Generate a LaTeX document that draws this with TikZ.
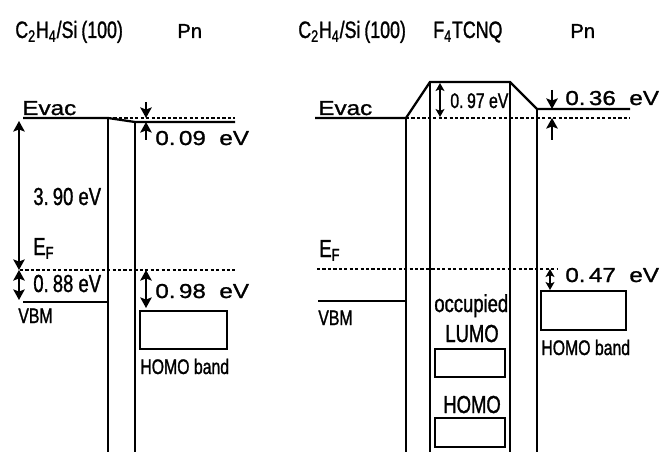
\documentclass[tikz,border=0pt]{standalone}
\usepackage{fontspec}
\setmainfont[FakeBold=1.2]{Liberation Sans}
\newfontfamily\widefont[FakeStretch=1.2,FakeBold=1.2]{Liberation Sans}
\newfontfamily\narrowfont[FakeStretch=0.75,FakeBold=1.2]{Liberation Sans}
\usetikzlibrary{positioning, arrows.meta, calc}
\tikzset{
    level/.style={line width=1.3pt},
    dotlevel/.style={line width=1pt, dash pattern=on 1.8pt off 1.3pt},
    wall/.style={line width=1.3pt},
    ebar/.style={{Stealth[length=6pt,width=6.5pt,inset=1.2pt]}-{Stealth[length=6pt,width=6.5pt,inset=1.2pt]}, line width=1.3pt},
    ebarsmall/.style={{Stealth[length=4.5pt,width=5pt,inset=1pt]}-{Stealth[length=4.5pt,width=5pt,inset=1pt]}, line width=1.2pt},
    eptr/.style={-{Stealth[length=6pt,width=6.5pt,inset=1.2pt]}, line width=1.3pt},
    bandbox/.style={draw, line width=1.3pt, inner sep=0pt},
    ttl/.style={anchor=base west, inner sep=0pt, font=\narrowfont\fontsize{13.5}{15}\selectfont},
    ttlpn/.style={anchor=base west, inner sep=0pt, font=\fontsize{11.5}{13}\selectfont},
    wlbl/.style={anchor=base west, inner sep=0pt, font=\widefont\fontsize{11.5}{13}\selectfont},
    nlbl/.style={anchor=base west, inner sep=0pt, font=\narrowfont\fontsize{14}{16}\selectfont},
    slbl/.style={anchor=base west, inner sep=0pt, font=\narrowfont\fontsize{12}{14}\selectfont},
}

\begin{document}
\begin{tikzpicture}[x=0.02cm, y=-0.02cm]
    \useasboundingbox (0,0) rectangle (661,452);
    % Titles
    \node[ttl]   (tSiL) at (15,38)  {C\textsubscript{2}H\textsubscript{4}/Si\,(100)};
    \node[ttlpn] (tPnL) at (177,38) {Pn};
    \node[ttl]   (tSiR) at (298,38) {C\textsubscript{2}H\textsubscript{4}/Si\,(100)};
    \node[ttl]   (tF4)  at (433,38) {F\textsubscript{4}TCNQ};
    \node[ttlpn] (tPnR) at (570,38) {Pn};

    % ---- C2H4/Si(100) / Pn ----
    \coordinate (vacA) at (23,118);
    \coordinate (vacB) at (108,118);
    \coordinate (vacC) at (135,122);
    \coordinate (vacD) at (235,122);
    \coordinate (vacE) at (235,118);
    \coordinate (wallA) at (108,452);
    \coordinate (wallB) at (135,452);
    \coordinate (efA) at (20,270);
    \coordinate (efB) at (235,270);
    \coordinate (vbmA) at (23,302);
    \coordinate (vbmB) at (108,302);
    \draw[level] (vacA) -- (vacB) -- (vacC) -- (vacD);
    \draw[dotlevel] (vacB) -- (vacE);
    \draw[wall] (vacB) -- (wallA);
    \draw[wall] (vacC) -- (wallB);
    \draw[dotlevel] (efA) -- (efB);
    \draw[level] (vbmA) -- (vbmB);
    % Energies
    \coordinate (wfTop) at (19,121);
    \coordinate (wfMid) at (19,270);
    \coordinate (wfBot) at (19,300);
    \draw[ebar] (wfTop) -- (wfMid);
    \draw[ebar] (wfMid) -- (wfBot);
    \coordinate (dvA) at (146,102);
    \coordinate (dvB) at (146,118);
    \coordinate (dvC) at (146,122);
    \coordinate (dvD) at (146,140);
    \draw[eptr] (dvA) -- (dvB);
    \draw[eptr] (dvD) -- (dvC);
    \coordinate (hbA) at (146,270);
    \coordinate (hbB) at (146,308);
    \draw[ebar] (hbA) -- (hbB);
    \node[bandbox, minimum width=1.74cm, minimum height=0.76cm] (homoL) at (183.5,330) {};
    % Labels
    \node[wlbl] (evacL) at (22,115)  {Evac};
    \node[nlbl] (wfL)   at (33,205)  {3.\,90 eV};
    \node[nlbl] (efL)   at (33,255)  {E\textsubscript{F}};
    \node[nlbl] (vbmgL) at (33,292)  {0.\,88 eV};
    \node[slbl] (vbmL)  at (18,323)  {VBM};
    \node[wlbl] (dvL)   at (155,145) {0.\,09~~eV};
    \node[wlbl] (hbL)   at (155,298) {0.\,98~~eV};
    \node[slbl] (homoLl) at (140,374) {HOMO band};

    % ---- C2H4/Si(100) / F4TCNQ / Pn ----
    \coordinate (rvacA) at (315,118);
    \coordinate (rvacB) at (406,118);
    \coordinate (rvacC) at (430,82);
    \coordinate (rvacD) at (510,82);
    \coordinate (rvacE) at (537,109);
    \coordinate (rvacF) at (630,109);
    \coordinate (rvacG) at (630,118);
    \draw[level] (rvacA) -- (rvacB) -- (rvacC) -- (rvacD) -- (rvacE) -- (rvacF);
    \draw[dotlevel] (rvacB) -- (rvacG);
    \foreach \w in {rvacB, rvacC, rvacD, rvacE}
        \draw[wall] (\w) -- (\w |- wallA);
    \coordinate (refA) at (317,269);
    \coordinate (refB) at (557,269);
    \coordinate (rvbmA) at (318,301);
    \coordinate (rvbmB) at (406,301);
    \draw[dotlevel] (refA) -- (refB);
    \draw[level] (rvbmA) -- (rvbmB);
    % Energies
    \coordinate (ipA) at (440,83);
    \coordinate (ipB) at (440,117);
    \draw[ebarsmall] (ipA) -- (ipB);
    \coordinate (rdvA) at (552,90);
    \coordinate (rdvB) at (552,109);
    \coordinate (rdvC) at (552,118);
    \coordinate (rdvD) at (552,140);
    \draw[eptr] (rdvA) -- (rdvB);
    \draw[eptr] (rdvD) -- (rdvC);
    \coordinate (rhbA) at (550,269);
    \coordinate (rhbB) at (550,290);
    \draw[ebarsmall] (rhbA) -- (rhbB);
    \node[bandbox, minimum width=1.70cm, minimum height=0.78cm] (homoR) at (583.5,310.5) {};
    \node[bandbox, minimum width=1.40cm, minimum height=0.56cm] (lumoF) at (470,363) {};
    \node[bandbox, minimum width=1.40cm, minimum height=0.58cm] (homoF) at (470,432.5) {};
    % Labels
    \node[wlbl] (evacR) at (318,115) {Evac};
    \node[slbl] (ipL)   at (450,108) {0.\,97 eV};
    \node[wlbl] (rdvL)  at (565,105) {0.\,36~~eV};
    \node[nlbl] (efR)   at (319,257) {E\textsubscript{F}};
    \node[wlbl] (rhbL)  at (565,282) {0.\,47~~eV};
    \node[slbl] (vbmR)  at (318,325) {VBM};
    \node[nlbl] (occL)  at (434,312) {occupied};
    \node[nlbl] (lumoL) at (445,342) {LUMO};
    \node[nlbl] (homoFl) at (443,413) {HOMO};
    \node[slbl] (homoRl) at (541,355) {HOMO band};
\end{tikzpicture}
\end{document}
